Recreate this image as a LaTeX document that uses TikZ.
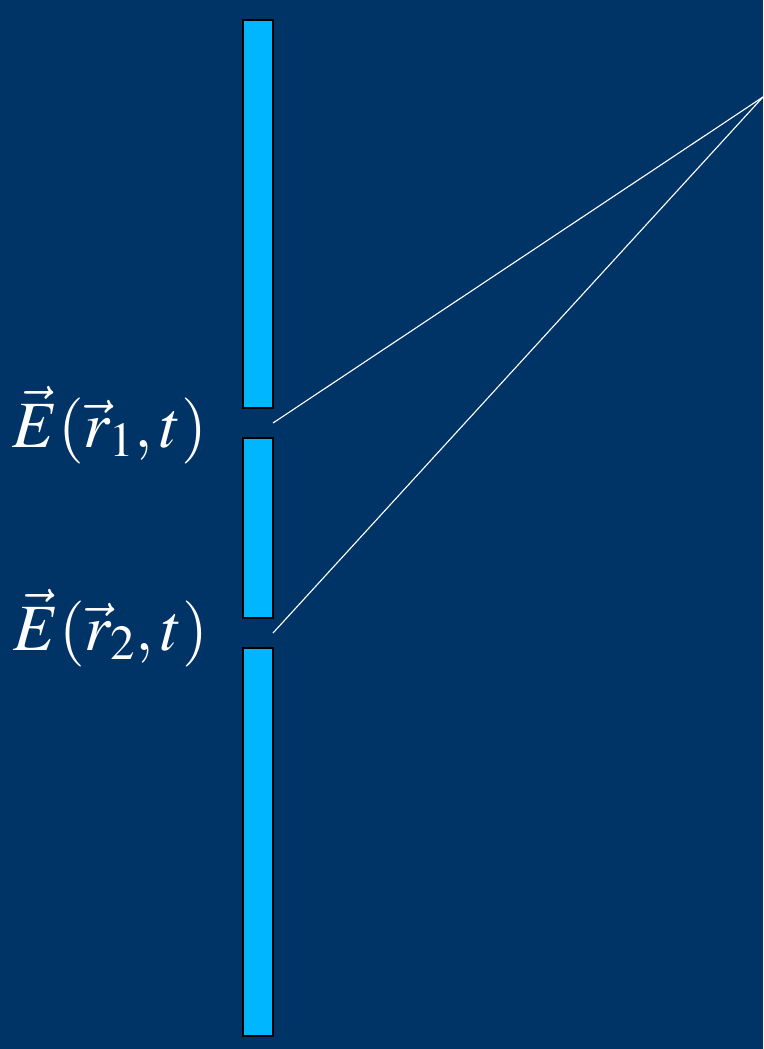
\documentclass[tikz,border=0pt]{standalone}
\usepackage{xcolor}
\usepackage{mathptmx}
\usepackage{tikz}
\usetikzlibrary{positioning,calc}
\definecolor{bgblue}{RGB}{0,51,102}
\definecolor{slitcyan}{RGB}{0,182,255}

\begin{document}
\begin{tikzpicture}[
  x=0.025cm, y=-0.025cm,
  wall/.style={
    draw=black,
    line width=1.2pt,
    fill=slitcyan,
    inner sep=0pt,
    minimum width=0.75cm
  },
  lbl/.style={text=white, font=\fontsize{47}{56}\selectfont, inner sep=0pt},
  ray/.style={draw=white, line width=0.8pt}
]

\fill[bgblue] (0,0) rectangle (763,1049);
\useasboundingbox (0,0) rectangle (763,1049);

\node[wall, minimum height=9.7cm] (top) at (258,214) {};
\node[wall, minimum height=4.5cm] (mid) at (258,528) {};
\node[wall, minimum height=9.7cm] (bot) at (258,842) {};

\node[lbl, anchor=base] (e1) at (110,447) {$\vec{E}(\vec{r}_{1},t)$};
\node[lbl, anchor=base] (e2) at (111,650) {$\vec{E}(\vec{r}_{2},t)$};

\coordinate (s1) at (273,423);
\coordinate (s2) at (273,633);
\coordinate (screen) at (763,97);

\draw[ray] (s1) -- (screen);
\draw[ray] (s2) -- (screen);

\end{tikzpicture}
\end{document}
